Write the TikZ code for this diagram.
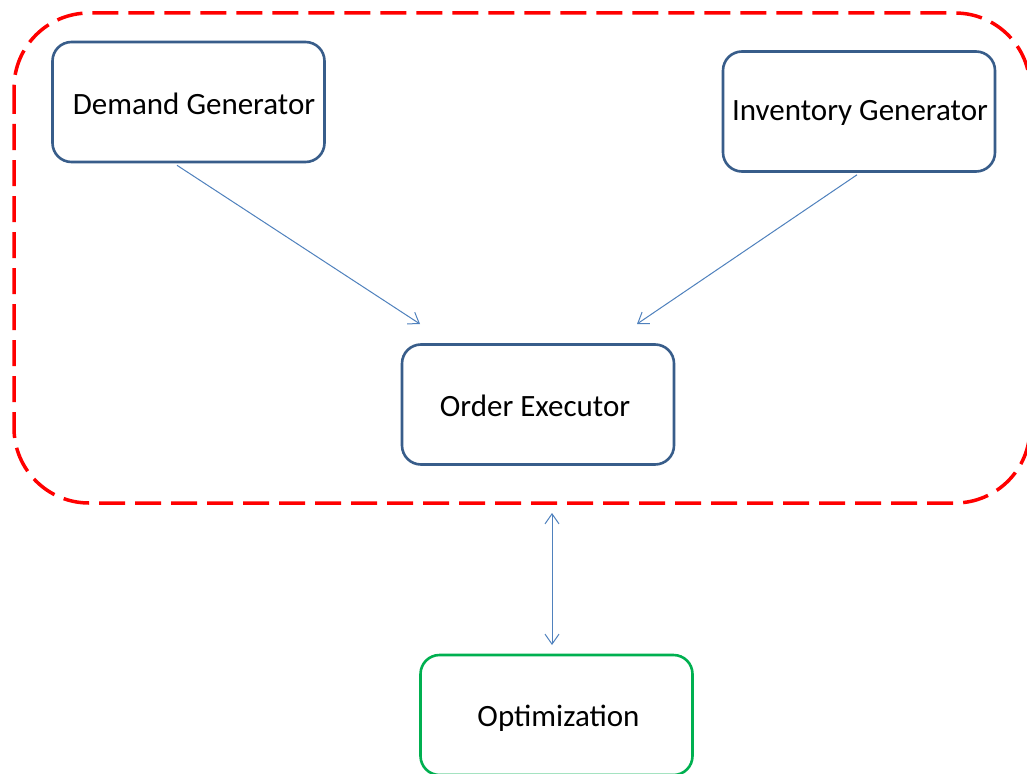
\documentclass[tikz,border=0pt]{standalone}
\usepackage{fontspec}
\setmainfont{Carlito}
\usetikzlibrary{arrows.meta,calc}
\definecolor{boxblue}{RGB}{56,93,138}
\definecolor{linkblue}{RGB}{79,129,189}
\definecolor{optgreen}{RGB}{0,176,80}
\definecolor{groupred}{RGB}{255,0,0}
\tikzset{
  module/.style={draw=boxblue, line width=2.6pt, rounded corners=19pt,
    minimum width=272pt, minimum height=120pt, inner sep=0pt},
  optbox/.style={module, draw=optgreen},
  caption/.style={inner sep=0pt, font=\fontsize{31}{37}\selectfont},
  link/.style={draw=linkblue, line width=1pt,
    -{Straight Barb[length=10pt,width=14pt,line width=1pt]}},
  duallink/.style={link, {Straight Barb[length=10pt,width=14pt,line width=1pt]}-{Straight Barb[length=10pt,width=14pt,line width=1pt]}},
  group/.style={draw=groupred, line width=3.5pt, dash pattern=on 26pt off 10pt,
    rounded corners=75pt}
}
\begin{document}
\begin{tikzpicture}[x=1pt,y=-1pt]
  \useasboundingbox (0,0) rectangle (1027,773);
  \fill[white] (0,0) rectangle (1027,773);

  % subsystem boundary
  \draw[group] (14,13) rectangle (1030,503);

  % modules
  \node[module] (dg) at (188.5,102) {};
  \node[module] (ig) at (859,111.5) {};
  \node[module] (oe) at (538,404.5) {};
  \node[optbox] (opt) at (556.5,715) {};

  % module captions
  \node[caption] (dgtxt) at (194,104) {Demand Generator};
  \node[caption] (igtxt) at (860,113) {Inventory Generator};
  \node[caption] (oetxt) at (535,406) {Order Executor};
  \node[caption] (opttxt) at (558.5,718) {Optimization};

  % free arrow ends
  \coordinate (dgend) at (420,324);
  \coordinate (igend) at (637,324);
  \coordinate (loopTop) at (552,513);
  \coordinate (loopBot) at (552,645);

  % connectors
  \draw[link] ([xshift=-11.5pt,yshift=-2pt]dg.south) -- (dgend);
  \draw[link] ([xshift=-2pt,yshift=-2pt]ig.south) -- (igend);
  \draw[duallink] (loopTop) -- (loopBot);
\end{tikzpicture}
\end{document}
